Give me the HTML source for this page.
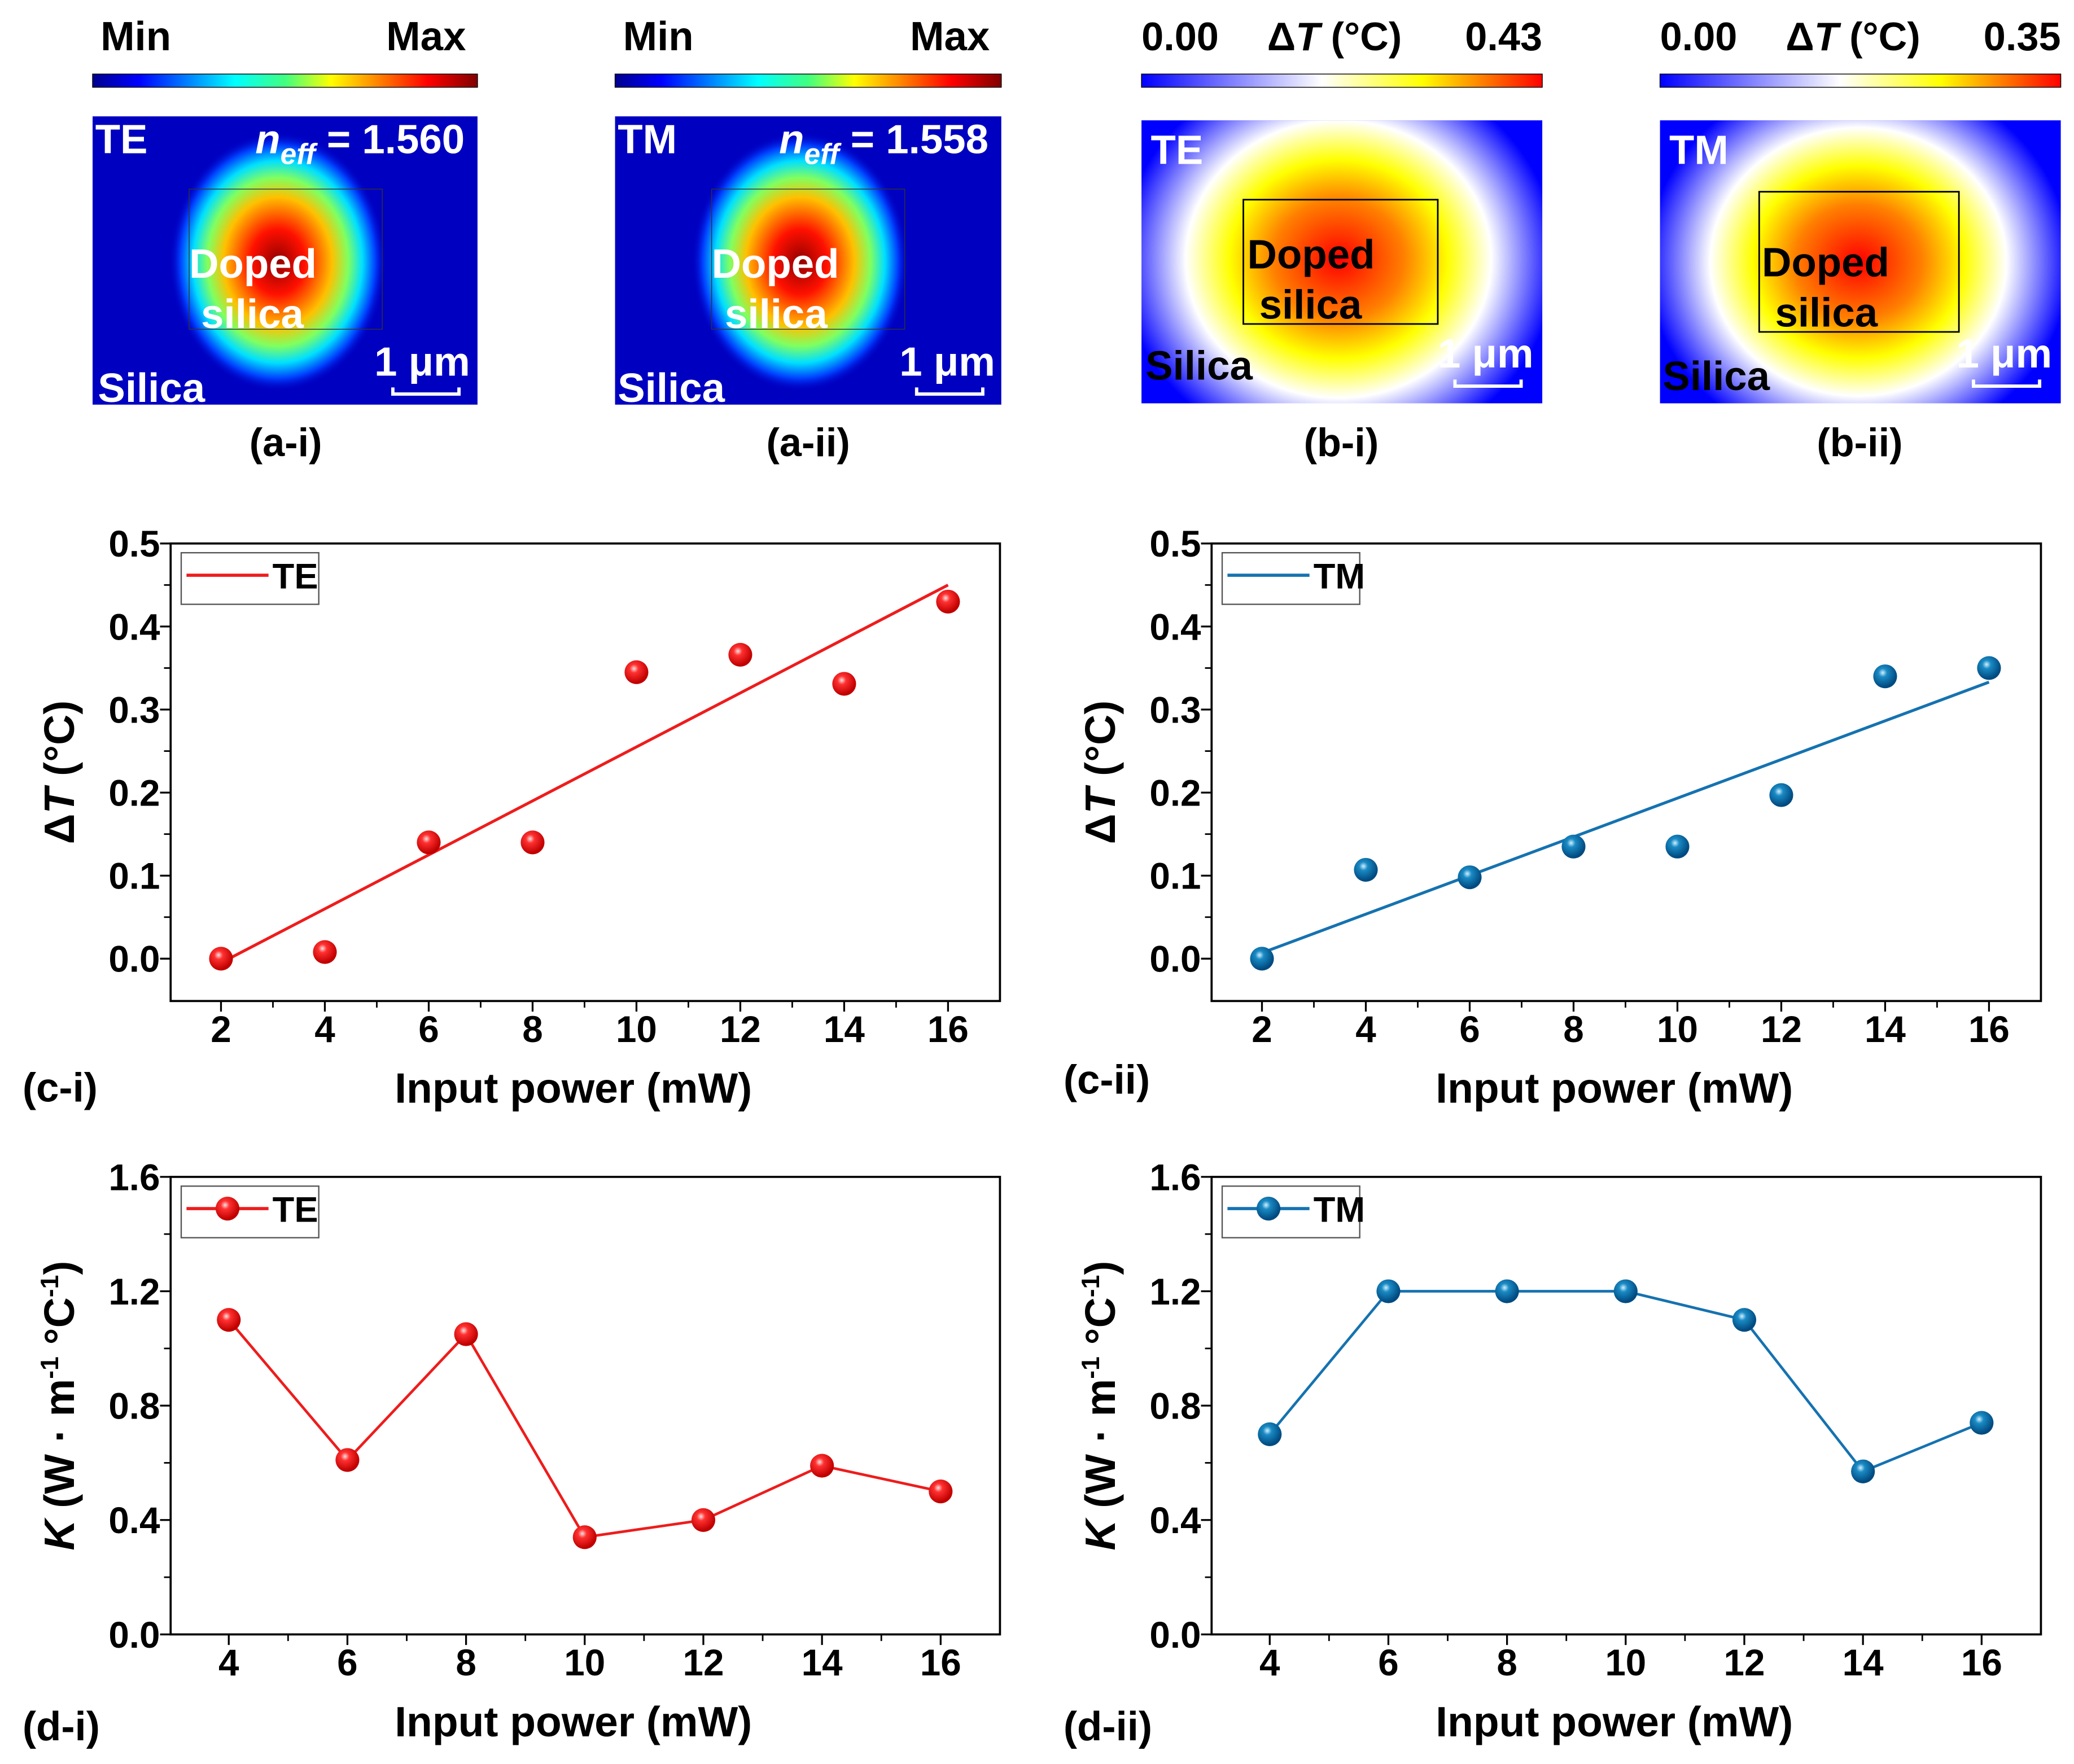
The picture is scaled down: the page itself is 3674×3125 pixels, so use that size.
<!DOCTYPE html>
<html><head><meta charset="utf-8"><style>
html,body{margin:0;padding:0;background:#fff}
svg{display:block}
text{font-family:"Liberation Sans",Arial,sans-serif;font-weight:bold;fill:#000}
</style></head><body>
<svg id="fig" width="3674" height="3125" viewBox="0 0 1568 1334" preserveAspectRatio="none" xmlns="http://www.w3.org/2000/svg">
<defs>
<linearGradient id="jet" x1="0" x2="1" y1="0" y2="0">
<stop offset="0" stop-color="#00008f"/><stop offset="0.12" stop-color="#0000ff"/><stop offset="0.37" stop-color="#00ffff"/><stop offset="0.5" stop-color="#40ff80"/><stop offset="0.62" stop-color="#ffff00"/><stop offset="0.87" stop-color="#ff0000"/><stop offset="1" stop-color="#800000"/>
</linearGradient>
<linearGradient id="heat" x1="0" x2="1" y1="0" y2="0">
<stop offset="0" stop-color="#0000ff"/><stop offset="0.45" stop-color="#ffffff"/><stop offset="0.7" stop-color="#ffff00"/><stop offset="1" stop-color="#ff0000"/>
</linearGradient>
<radialGradient id="jetr" cx="0.5" cy="0.5" r="0.5">
<stop offset="0" stop-color="#900000"/><stop offset="0.25" stop-color="#ff1000"/><stop offset="0.5" stop-color="#ffc000"/><stop offset="0.65" stop-color="#80ff60"/><stop offset="0.78" stop-color="#00e0ff"/><stop offset="0.9" stop-color="#0040ff"/><stop offset="1" stop-color="#0000c8" stop-opacity="0"/>
</radialGradient>
<radialGradient id="heatr" cx="0.5" cy="0.5" r="0.5">
<stop offset="0" stop-color="#ff0000"/><stop offset="0.3" stop-color="#ff8000"/><stop offset="0.5" stop-color="#ffff00"/><stop offset="0.7" stop-color="#ffffff"/><stop offset="1" stop-color="#ffffff" stop-opacity="0"/>
</radialGradient>
<radialGradient id="redball" cx="0.4" cy="0.35" r="0.6">
<stop offset="0" stop-color="#ffe0e0"/><stop offset="0.3" stop-color="#ff3030"/><stop offset="1" stop-color="#c00000"/>
</radialGradient>
<radialGradient id="blueball" cx="0.4" cy="0.35" r="0.6">
<stop offset="0" stop-color="#d0f0ff"/><stop offset="0.3" stop-color="#1a8ac4"/><stop offset="1" stop-color="#004a80"/>
</radialGradient>
<clipPath id="cb1"><rect x="863" y="91" width="303" height="214"/></clipPath>
<clipPath id="cb2"><rect x="1255" y="91" width="303" height="214"/></clipPath>
</defs>

<!-- a-i -->
<g>
<text x="76" y="38" font-size="31">Min</text><text x="292" y="38" font-size="31">Max</text>
<rect x="70" y="56" width="291" height="10" fill="url(#jet)" stroke="#000" stroke-width="0.6"/>
<rect x="70" y="88" width="291" height="218" fill="#0000c0"/>
<ellipse cx="210" cy="198" rx="82" ry="98" fill="url(#jetr)"/>
<rect x="143" y="143" width="146" height="106" fill="none" stroke="#333" stroke-width="0.6"/>
<text x="72" y="116" font-size="31" style="fill:#fff">TE</text>
<text x="193" y="116" font-size="31" style="fill:#fff"><tspan font-style="italic">n</tspan><tspan font-style="italic" font-size="22" dy="8">eff</tspan><tspan dy="-8"> = 1.560</tspan></text>
<text x="143" y="210" font-size="31" style="fill:#fff">Doped</text><text x="152" y="248" font-size="31" style="fill:#fff">silica</text>
<text x="74" y="304" font-size="31" style="fill:#fff">Silica</text>
<text x="283" y="284" font-size="31" style="fill:#fff">1 μm</text>
<path d="M297 293 v5 h50 v-5" stroke="#fff" stroke-width="2.5" fill="none"/>
<text x="216" y="345" font-size="30" text-anchor="middle">(a-i)</text>
</g>
<!-- a-ii -->
<g>
<text x="471" y="38" font-size="31">Min</text><text x="688" y="38" font-size="31">Max</text>
<rect x="465" y="56" width="292" height="10" fill="url(#jet)" stroke="#000" stroke-width="0.6"/>
<rect x="465" y="88" width="292" height="218" fill="#0000c0"/>
<ellipse cx="605" cy="198" rx="82" ry="98" fill="url(#jetr)"/>
<rect x="538" y="143" width="146" height="106" fill="none" stroke="#333" stroke-width="0.6"/>
<text x="467" y="116" font-size="31" style="fill:#fff">TM</text>
<text x="589" y="116" font-size="31" style="fill:#fff"><tspan font-style="italic">n</tspan><tspan font-style="italic" font-size="22" dy="8">eff</tspan><tspan dy="-8"> = 1.558</tspan></text>
<text x="538" y="210" font-size="31" style="fill:#fff">Doped</text><text x="548" y="248" font-size="31" style="fill:#fff">silica</text>
<text x="467" y="304" font-size="31" style="fill:#fff">Silica</text>
<text x="680" y="284" font-size="31" style="fill:#fff">1 μm</text>
<path d="M693 293 v5 h50 v-5" stroke="#fff" stroke-width="2.5" fill="none"/>
<text x="611" y="345" font-size="30" text-anchor="middle">(a-ii)</text>
</g>
<!-- b-i -->
<g>
<text x="863" y="38" font-size="30">0.00</text><text x="958" y="38" font-size="30">Δ<tspan font-style="italic">T</tspan> (°C)</text><text x="1166" y="38" font-size="30" text-anchor="end">0.43</text>
<rect x="863" y="56" width="303" height="10" fill="url(#heat)" stroke="#000" stroke-width="0.6"/>
<rect x="863" y="91" width="303" height="214" fill="#0000ff"/>
<ellipse clip-path="url(#cb1)" cx="1012" cy="196" rx="165" ry="150" fill="url(#heatr)"/>
<rect x="940" y="151" width="147" height="94" fill="none" stroke="#000" stroke-width="1.2"/>
<text x="870" y="124" font-size="31" style="fill:#fff">TE</text>
<text x="943" y="203" font-size="31">Doped</text><text x="952" y="241" font-size="31">silica</text>
<text x="866" y="287" font-size="31">Silica</text>
<text x="1087" y="278" font-size="31" style="fill:#fff">1 μm</text>
<path d="M1100 287 v5 h50 v-5" stroke="#fff" stroke-width="2.5" fill="none"/>
<text x="1014" y="345" font-size="30" text-anchor="middle">(b-i)</text>
</g>
<!-- b-ii -->
<g>
<text x="1255" y="38" font-size="30">0.00</text><text x="1350" y="38" font-size="30">Δ<tspan font-style="italic">T</tspan> (°C)</text><text x="1558" y="38" font-size="30" text-anchor="end">0.35</text>
<rect x="1255" y="56" width="303" height="10" fill="url(#heat)" stroke="#000" stroke-width="0.6"/>
<rect x="1255" y="91" width="303" height="214" fill="#0000ff"/>
<ellipse clip-path="url(#cb2)" cx="1405" cy="198" rx="160" ry="145" fill="url(#heatr)"/>
<rect x="1330" y="145" width="151" height="106" fill="none" stroke="#000" stroke-width="1.2"/>
<text x="1262" y="124" font-size="31" style="fill:#fff">TM</text>
<text x="1332" y="209" font-size="31">Doped</text><text x="1342" y="247" font-size="31">silica</text>
<text x="1257" y="295" font-size="31">Silica</text>
<text x="1479" y="278" font-size="31" style="fill:#fff">1 μm</text>
<path d="M1492 287 v5 h50 v-5" stroke="#fff" stroke-width="2.5" fill="none"/>
<text x="1406" y="345" font-size="30" text-anchor="middle">(b-ii)</text>
</g>
<g id="charts"></g>
</svg>
<script>
const NS="http://www.w3.org/2000/svg";
const powerC=[2,4,6,8,10,12,14,16];
const dTTE=[0,0.008,0.14,0.14,0.345,0.366,0.331,0.43];
const dTTM=[0,0.107,0.098,0.135,0.135,0.197,0.34,0.35];
const fitTE=[-0.005,0.45];
const fitTM=[0.007,0.333];
const powerD=[4,6,8,10,12,14,16];
const kTE=[1.1,0.61,1.05,0.34,0.40,0.59,0.50];
const kTM=[0.70,1.2,1.2,1.2,1.1,0.57,0.74];
const ticksXC=[2,4,6,8,10,12,14,16];
const ticksYC=[0.0,0.1,0.2,0.3,0.4,0.5];
const ticksXD=[4,6,8,10,12,14,16];
const ticksYD=[0.0,0.4,0.8,1.2,1.6];

const root=document.getElementById('charts');
function el(tag,attrs,parent){const e=document.createElementNS(NS,tag);for(const k in attrs)e.setAttribute(k,attrs[k]);(parent||root).appendChild(e);return e;}

function chart(o){
  const g=el('g',{});
  
  
  const L=o.left,R=o.left+627,T=o.top,B=o.top+346;
  const sx=v=>L+(v-o.xmin)/(o.xmax-o.xmin)*(R-L);
  const sy=v=>B-(v-o.ymin)/(o.ymax-o.ymin)*(B-T);
  const fr=el('rect',{x:L,y:T,width:R-L,height:B-T,fill:'none',stroke:'#000','stroke-width':1.6},g);
  
  
  o.xt.forEach((t,i)=>{
    el('line',{x1:sx(t),x2:sx(t),y1:B,y2:B+8,stroke:'#000','stroke-width':1.4},g);
    if(i<o.xt.length-1){const m=(t+o.xt[i+1])/2;el('line',{x1:sx(m),x2:sx(m),y1:B,y2:B+5,stroke:'#000','stroke-width':1.2},g);}
    const tx=el('text',{x:sx(t),y:B+31,'font-size':28,'text-anchor':'middle'},g);tx.textContent=t;
    
    
  });
  o.yt.forEach((t,i)=>{
    el('line',{x1:L-8,x2:L,y1:sy(t),y2:sy(t),stroke:'#000','stroke-width':1.4},g);
    if(i<o.yt.length-1){const m=(t+o.yt[i+1])/2;el('line',{x1:L-5,x2:L,y1:sy(m),y2:sy(m),stroke:'#000','stroke-width':1.2},g);}
    const tx=el('text',{x:L-8,y:sy(t)+10,'font-size':28,'text-anchor':'end'},g);tx.textContent=t.toFixed(1);
    
    
  });
  const xl=el('text',{x:(L+R)/2-9,y:B+77,'font-size':32,'text-anchor':'middle'},g);xl.textContent='Input power (mW)';
  
  
  const pl=el('text',{x:o.left-112,y:B+o.plabY,'font-size':31},g);pl.textContent=o.plab;
  
  
  const yl=el('text',{transform:`translate(${L-73},${(T+B)/2}) rotate(-90)`,'font-size':32,'text-anchor':'middle'},g);
  yl.innerHTML=o.ylab;
  
  
  const col=o.color;
  if(o.fit){
    const ln=el('line',{x1:sx(o.xs[0]),y1:sy(o.fit[0]),x2:sx(o.xs[o.xs.length-1]),y2:sy(o.fit[1]),stroke:col,'stroke-width':2.2},g);
    
    
  } else {
    const pts=o.xs.map((x,i)=>sx(x)+','+sy(o.ys[i])).join(' ');
    const pll=el('polyline',{points:pts,fill:'none',stroke:col,'stroke-width':2},g);
    
    
  }
  o.xs.forEach((x,i)=>{
    const c=el('ellipse',{cx:sx(x),cy:sy(o.ys[i]),rx:9,ry:9,fill:o.ball},g);
    
    
  });
  const lg=el('g',{},g);
  
  
  el('rect',{x:L+8,y:T+7,width:104,height:39,fill:'#fff',stroke:'#555','stroke-width':1},lg);
  el('line',{x1:L+12,x2:L+74,y1:T+24,y2:T+24,stroke:col,'stroke-width':2.4},lg);
  if(!o.fit) el('ellipse',{cx:L+43,cy:T+24,rx:9,ry:9,fill:o.ball},lg);
  const lt=el('text',{x:L+77,y:T+34,'font-size':27},lg);lt.textContent=o.leg;
}
const ylC='Δ<tspan font-style="italic">T</tspan> (°C)';
const ylD='<tspan font-style="italic">K</tspan> (W · m<tspan font-size="19" dy="-12">-1</tspan><tspan dy="12"> °C</tspan><tspan font-size="19" dy="-12">-1</tspan><tspan dy="12">)</tspan>';
chart({name:'chart-c-i',left:129,top:411,xmin:1.03,xmax:17,ymin:-0.051,ymax:0.5,xt:ticksXC,yt:ticksYC,xs:powerC,ys:dTTE,fit:fitTE,color:'#ee1c1c',ball:'url(#redball)',leg:'TE',plab:'(c-i)',plabY:76,ylab:ylC});
chart({name:'chart-c-ii',left:916,top:411,xmin:1.03,xmax:17,ymin:-0.051,ymax:0.5,xt:ticksXC,yt:ticksYC,xs:powerC,ys:dTTM,fit:fitTM,color:'#1572b0',ball:'url(#blueball)',leg:'TM',plab:'(c-ii)',plabY:70,ylab:ylC});
chart({name:'chart-d-i',left:129,top:890,xmin:3.02,xmax:17,ymin:0,ymax:1.6,xt:ticksXD,yt:ticksYD,xs:powerD,ys:kTE,fit:null,color:'#ee1c1c',ball:'url(#redball)',leg:'TE',plab:'(d-i)',plabY:80,ylab:ylD});
chart({name:'chart-d-ii',left:916,top:890,xmin:3.02,xmax:17,ymin:0,ymax:1.6,xt:ticksXD,yt:ticksYD,xs:powerD,ys:kTM,fit:null,color:'#1572b0',ball:'url(#blueball)',leg:'TM',plab:'(d-ii)',plabY:80,ylab:ylD});
</script>
</body></html>
